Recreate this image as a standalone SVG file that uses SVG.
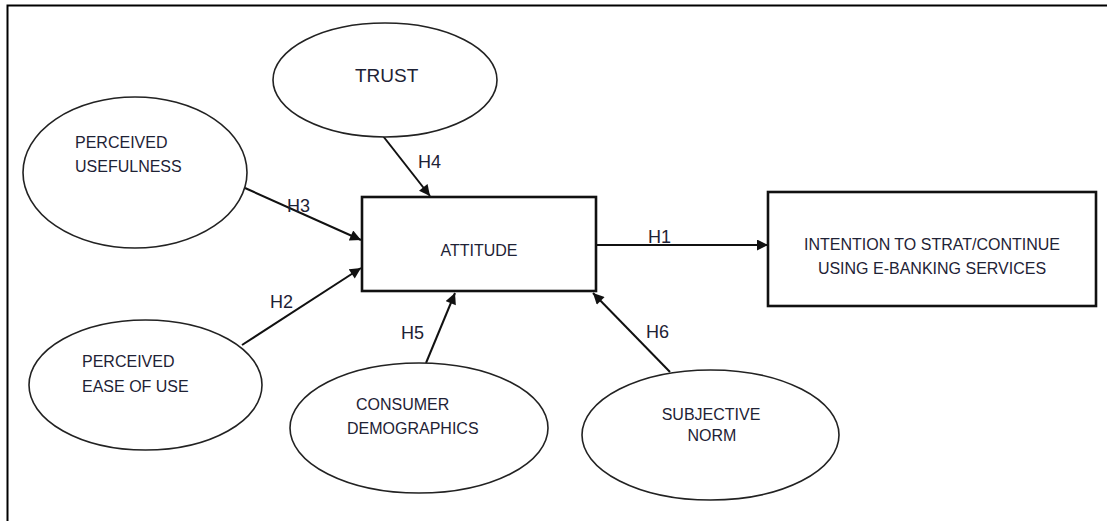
<svg xmlns="http://www.w3.org/2000/svg" width="1110" height="521" viewBox="0 0 1110 521">
<style>
.ell{fill:#fff;stroke:#222;stroke-width:1.6}
.box{fill:#fff;stroke:#111;stroke-width:2.6}
.t{font-family:"Liberation Sans",Arial,sans-serif;font-size:16px;fill:#1e2235}
.h{font-family:"Liberation Sans",Arial,sans-serif;font-size:18px;fill:#1e2235}
.c{stroke:#111;stroke-width:2;fill:none;marker-end:url(#ah)}
</style>
<defs>
<marker id="ah" viewBox="0 0 10 10" refX="10" refY="5" markerWidth="6" markerHeight="5.5" markerUnits="strokeWidth" orient="auto">
<path d="M0,0 L10,5 L0,10 z" fill="#111"/>
</marker>
</defs>
<rect width="1110" height="521" fill="#fff"/>
<g id="frame">
<path d="M7.5,521 V5.5 H1107" fill="none" stroke="#000" stroke-width="2"/>
</g>
<g id="connectors">
<line class="c" x1="245" y1="188" x2="361" y2="240"/>
<line class="c" x1="242" y1="345" x2="361" y2="268"/>
<line class="c" x1="383" y1="136" x2="430" y2="196"/>
<line class="c" x1="426" y1="363" x2="455" y2="293"/>
<line class="c" x1="670" y1="372" x2="593" y2="293"/>
<line class="c" x1="597" y1="245" x2="768" y2="245"/>
<text class="h" x="648" y="243">H1</text>
<text class="h" x="270" y="308">H2</text>
<text class="h" x="287" y="212">H3</text>
<text class="h" x="418" y="168">H4</text>
<text class="h" x="401" y="339">H5</text>
<text class="h" x="646" y="338">H6</text>
</g>
<g id="trust">
<ellipse class="ell" cx="385" cy="80" rx="112" ry="57"/>
<text class="t" x="355" y="82" style="font-size:19px">TRUST</text>
</g>
<g id="usefulness">
<ellipse class="ell" cx="135" cy="172.5" rx="112" ry="75.5"/>
<text class="t" x="75" y="148">PERCEIVED</text>
<text class="t" x="75" y="172">USEFULNESS</text>
</g>
<g id="ease">
<ellipse class="ell" cx="145.5" cy="385" rx="116.5" ry="65"/>
<text class="t" x="82" y="367">PERCEIVED</text>
<text class="t" x="82" y="392">EASE OF USE</text>
</g>
<g id="demographics">
<ellipse class="ell" cx="419" cy="428" rx="129" ry="65"/>
<text class="t" x="356" y="410">CONSUMER</text>
<text class="t" x="347" y="434">DEMOGRAPHICS</text>
</g>
<g id="norm">
<ellipse class="ell" cx="710.5" cy="435" rx="128.5" ry="65"/>
<text class="t" x="711" y="420" text-anchor="middle">SUBJECTIVE</text>
<text class="t" x="712" y="441" text-anchor="middle">NORM</text>
</g>
<g id="attitude">
<rect class="box" x="362" y="197" width="234" height="94"/>
<text class="t" x="479" y="256" text-anchor="middle">ATTITUDE</text>
</g>
<g id="intention">
<rect class="box" x="768" y="192" width="328" height="114"/>
<text class="t" x="932" y="250" text-anchor="middle">INTENTION TO STRAT/CONTINUE</text>
<text class="t" x="932" y="274" text-anchor="middle">USING E-BANKING SERVICES</text>
</g>
</svg>
